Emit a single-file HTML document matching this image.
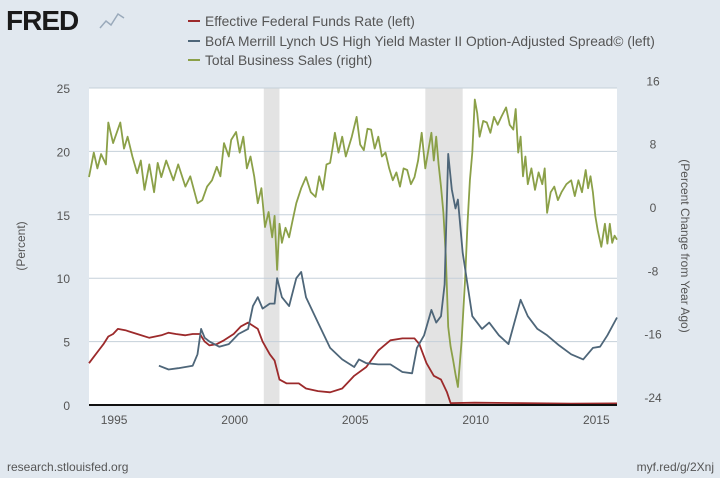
<!DOCTYPE html>
<html><head><meta charset="utf-8"><style>
html,body{margin:0;width:720px;height:478px;overflow:hidden;background:#e1e8ef;font-family:"Liberation Sans",sans-serif;}
svg{display:block}
svg text{font-family:"Liberation Sans",sans-serif;fill:#555;}
</style></head><body>
<svg id="c" width="720" height="478">
<rect width="720" height="478" fill="#e1e8ef"/>
<g>
<text x="6" y="30" style="font-size:28px;font-weight:bold;fill:#1a1a1a;letter-spacing:-1px">FRED</text>
<polyline points="100,28 106,21 111,25 118,14 124,18" fill="none" stroke="#9aaabb" stroke-width="1.5"/>
</g>
<g style="font-size:13.8px">
<g><line x1="188" y1="21" x2="200" y2="21" stroke="#9c2a2b" stroke-width="2"/><text x="205" y="26">Effective Federal Funds Rate (left)</text></g>
<g><line x1="188" y1="41" x2="200" y2="41" stroke="#4e6679" stroke-width="2"/><text x="205" y="46">BofA Merrill Lynch US High Yield Master II Option-Adjusted Spread© (left)</text></g>
<g><line x1="188" y1="60" x2="200" y2="60" stroke="#8ba048" stroke-width="2"/><text x="205" y="65">Total Business Sales (right)</text></g>
</g>
<rect x="89" y="88" width="528" height="317" fill="#fff"/>
<g id="rec"></g><g id="grid"></g><g id="series"></g><g id="axes"></g>
<text transform="translate(25,246) rotate(-90)" text-anchor="middle" style="font-size:12px">(Percent)</text>
<text transform="translate(681,246) rotate(90)" text-anchor="middle" style="font-size:12px">(Percent Change from Year Ago)</text>
<text x="7" y="471" style="font-size:12px">research.stlouisfed.org</text>
<text x="714" y="471" text-anchor="end" style="font-size:12px">myf.red/g/2Xnj</text>
</svg>
<script>
const leftTicks=[0,5,10,15,20,25];
const rightTicks=[-24,-16,-8,0,8,16];
const xTicks=[1995,2000,2005,2010,2015];
const recessions=[[2001.25,2001.9],[2007.95,2009.5]];
const ffT=[1994.0,1994.2,1994.4,1994.6,1994.8,1995.0,1995.2,1995.5,1996.0,1996.5,1997.0,1997.3,1997.6,1998.0,1998.3,1998.6,1998.8,1999.0,1999.3,1999.6,2000.0,2000.3,2000.6,2001.0,2001.2,2001.5,2001.7,2001.9,2002.2,2002.7,2003.0,2003.5,2004.0,2004.5,2005.0,2005.5,2006.0,2006.5,2007.0,2007.5,2007.7,2008.0,2008.3,2008.6,2008.85,2009.0,2010.0,2012.0,2014.0,2015.9];
const ffV=[3.3,3.8,4.3,4.8,5.4,5.6,6.0,5.9,5.6,5.3,5.5,5.7,5.6,5.5,5.6,5.6,5.0,4.7,4.8,5.1,5.6,6.2,6.5,6.0,5.0,4.0,3.5,2.0,1.7,1.7,1.3,1.1,1.0,1.3,2.3,3.0,4.3,5.1,5.25,5.25,4.8,3.3,2.3,2.0,1.0,0.15,0.18,0.15,0.1,0.13];
const hyT=[1996.9,1997.3,1997.7,1998.3,1998.5,1998.65,1998.8,1999.0,1999.4,1999.8,2000.2,2000.6,2000.8,2001.0,2001.2,2001.5,2001.7,2001.8,2002.0,2002.3,2002.6,2002.8,2003.0,2003.5,2004.0,2004.5,2005.0,2005.2,2005.5,2006.0,2006.5,2007.0,2007.4,2007.6,2007.9,2008.2,2008.4,2008.6,2008.75,2008.9,2009.05,2009.2,2009.3,2009.5,2009.9,2010.3,2010.6,2011.0,2011.4,2011.9,2012.2,2012.6,2013.0,2013.5,2014.0,2014.5,2014.9,2015.2,2015.5,2015.9];
const hyV=[3.1,2.8,2.9,3.1,4.0,6.0,5.3,5.0,4.6,4.8,5.6,6.0,7.8,8.5,7.6,8.0,8.0,10.0,8.5,7.8,10.0,10.5,8.5,6.5,4.5,3.6,3.0,3.6,3.3,3.2,3.2,2.6,2.5,4.5,5.5,7.5,6.5,7.0,9.5,19.8,17.0,15.5,16.2,12.0,7.0,6.0,6.5,5.5,4.8,8.3,7.0,6.0,5.5,4.7,4.0,3.6,4.5,4.6,5.5,6.9];
const bsT=[1994.0,1994.2,1994.35,1994.5,1994.7,1994.8,1995.0,1995.3,1995.45,1995.6,1995.8,1996.0,1996.15,1996.3,1996.5,1996.7,1996.85,1997.0,1997.2,1997.5,1997.7,1998.0,1998.2,1998.5,1998.7,1998.9,1999.1,1999.3,1999.45,1999.6,1999.8,1999.9,2000.1,2000.25,2000.4,2000.55,2000.7,2000.85,2001.0,2001.15,2001.3,2001.45,2001.6,2001.7,2001.8,2001.9,2002.0,2002.15,2002.3,2002.45,2002.6,2002.8,2003.0,2003.2,2003.4,2003.55,2003.7,2003.85,2004.0,2004.1,2004.2,2004.35,2004.5,2004.65,2004.9,2005.1,2005.25,2005.4,2005.55,2005.7,2005.85,2006.0,2006.15,2006.3,2006.45,2006.6,2006.75,2006.9,2007.05,2007.2,2007.35,2007.5,2007.65,2007.8,2007.95,2008.1,2008.2,2008.3,2008.4,2008.5,2008.6,2008.7,2008.8,2008.9,2009.0,2009.1,2009.2,2009.3,2009.45,2009.6,2009.7,2009.8,2009.9,2010.0,2010.1,2010.2,2010.35,2010.5,2010.65,2010.8,2010.95,2011.1,2011.3,2011.45,2011.6,2011.7,2011.8,2011.9,2012.0,2012.1,2012.2,2012.35,2012.5,2012.65,2012.8,2012.9,2013.0,2013.15,2013.3,2013.45,2013.6,2013.8,2014.0,2014.15,2014.3,2014.45,2014.6,2014.7,2014.8,2014.9,2015.0,2015.1,2015.25,2015.4,2015.5,2015.6,2015.7,2015.8,2015.9];
const bsV=[3.9,7.0,5.0,6.8,5.5,10.8,8.2,10.8,7.5,9.0,6.5,4.4,6.0,2.3,5.5,2.0,5.7,3.9,6.0,3.5,5.5,2.7,4.0,0.6,1.0,2.7,3.5,5.2,4.0,8.2,6.5,8.6,9.6,7.0,9.0,5.0,6.5,4.0,0.6,2.5,-2.4,-0.5,-3.7,-1.0,-7.8,-2.0,-4.4,-2.5,-3.7,-1.5,0.6,2.5,3.9,2.0,1.4,4.0,2.3,5.5,5.7,7.5,9.5,7.0,9.0,6.5,9.0,11.5,8.0,7.3,10.0,9.9,7.5,9.0,6.5,7.0,5.0,3.5,4.5,2.7,5.0,4.8,3.0,3.9,6.0,9.5,5.0,7.7,9.5,6.0,9.0,5.5,2.7,-0.6,-6.0,-15.0,-17.5,-19.2,-21.0,-22.6,-17.0,-9.0,-2.0,3.5,7.0,13.7,12.0,9.0,11.0,10.8,9.5,11.5,10.5,11.5,12.7,10.5,9.9,12.5,7.0,9.0,4.0,6.5,3.0,5.0,2.3,4.5,3.0,5.0,-0.6,2.0,2.7,1.0,2.0,3.0,3.5,1.5,3.5,2.0,4.8,2.5,4.0,2.0,-1.0,-2.8,-4.9,-2.0,-4.5,-2.0,-4.4,-3.5,-4.0];
const X=t=>89+(t-1994)*(528/21.9);
const YL=v=>405-v*12.68;
const YR=v=>208-v*7.92;
const ns="http://www.w3.org/2000/svg";
function mk(parent,tag,attrs){const e=document.createElementNS(ns,tag);for(const k in attrs)e.setAttribute(k,attrs[k]);document.getElementById(parent).appendChild(e);return e;}
recessions.forEach(r=>{const e=mk('rec','rect',{x:X(r[0]),y:88,width:X(r[1])-X(r[0]),height:317,fill:'#e3e3e3'});

});
leftTicks.forEach(v=>{if(v>0){const g=mk('grid','line',{x1:89,x2:617,y1:YL(v),y2:YL(v),stroke:'#c5d0da','stroke-width':1});

}
const t=mk('axes','text',{x:70,y:YL(v)+5,'text-anchor':'end',style:'font-size:12px'});t.textContent=v;

});
rightTicks.forEach(v=>{const t=mk('axes','text',{x:653,y:YR(v)+4,'text-anchor':'middle',style:'font-size:12px'});t.textContent=v;

});
xTicks.forEach(v=>{const t=mk('axes','text',{x:X(v)+1,y:424,'text-anchor':'middle',style:'font-size:12px'});t.textContent=v;

});
function line(T,V,Y,col,name){const p=T.map((t,i)=>X(t).toFixed(1)+','+Y(V[i]).toFixed(1)).join(' ');
const e=mk('series','polyline',{points:p,fill:'none',stroke:col,'stroke-width':1.8,'stroke-linejoin':'round'});

}
line(bsT,bsV,YR,'#8ba048','business-sales-line');
line(ffT,ffV,YL,'#9c2a2b','fed-funds-line');
line(hyT,hyV,YL,'#4e6679','hy-spread-line');
const ax=mk('axes','line',{x1:89,x2:617,y1:405,y2:405,stroke:'#111','stroke-width':2});


</script>
</body></html>
